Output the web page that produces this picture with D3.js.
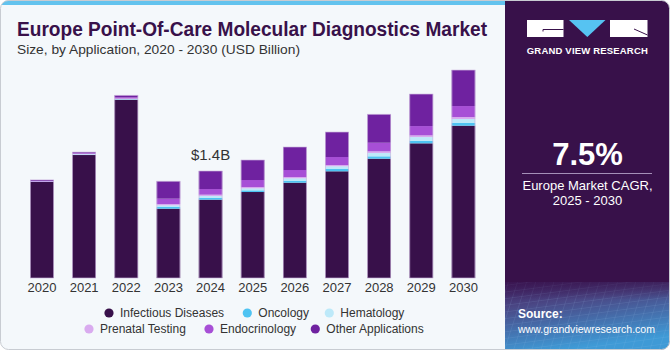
<!DOCTYPE html>
<html>
<head>
<meta charset="utf-8">
<script src="https://cdn.jsdelivr.net/npm/d3@7"></script>
<style>
html,body{margin:0;padding:0;background:#fff;}
svg{display:block;font-family:"Liberation Sans",Arial,sans-serif;}
</style>
</head>
<body>
<svg id="chart" width="670" height="350"></svg>
<script>
const years = ["2020","2021","2022","2023","2024","2025","2026","2027","2028","2029","2030"];
const seriesNames = ["Infectious Diseases","Oncology","Hematology","Prenatal Testing","Endocrinology","Other Applications"];
const infectious = [1.256,1.609,2.333,0.907,1.025,1.125,1.247,1.396,1.561,1.762,1.993];
const oncology   = [0.002,0.004,0.004,0.022,0.022,0.022,0.026,0.030,0.031,0.034,0.035];
const hematology = [0.003,0.006,0.005,0.022,0.026,0.026,0.031,0.035,0.043,0.048,0.052];
const prenatal   = [0.003,0.006,0.007,0.017,0.017,0.017,0.017,0.017,0.022,0.022,0.026];
const endocrin   = [0.006,0.008,0.015,0.070,0.074,0.092,0.092,0.105,0.113,0.122,0.144];
const otherApps  = [0.013,0.014,0.026,0.228,0.236,0.262,0.301,0.327,0.372,0.419,0.471];
const colors = ["#38104a","#4ec3f2","#bde9f9","#d9abef","#a74fd6","#6f22a0"];
const annotationYear = "2024";
const annotationText = "$1.4B";

const svg = d3.select("#chart");
const W = 670, H = 350;

// defs
const defs = svg.append("defs");
const clip = defs.append("clipPath").attr("id","outer");
clip.append("rect").attr("x",0.5).attr("y",0.5).attr("width",W-1).attr("height",H-1).attr("rx",8);
const grad = defs.append("linearGradient").attr("id","srcGrad").attr("x1",0).attr("y1",0).attr("x2",0.3).attr("y2",1);
grad.append("stop").attr("offset","0%").attr("stop-color","#3d1a5a");
grad.append("stop").attr("offset","35%").attr("stop-color","#4a4785");
grad.append("stop").attr("offset","100%").attr("stop-color","#3f9ad6");
const pat = defs.append("pattern").attr("id","gridPat").attr("width",9).attr("height",7)
  .attr("patternUnits","userSpaceOnUse").attr("patternTransform","skewX(-25) rotate(-8)");
pat.append("path").attr("d","M0 0 L9 0 M0 0 L0 7").attr("stroke","#9fc8ee").attr("stroke-width",0.6).attr("fill","none").attr("opacity",0.55);

const g = svg.append("g").attr("clip-path","url(#outer)");

// backgrounds
g.append("rect").attr("x",0).attr("y",0).attr("width",W).attr("height",H).attr("fill","#f4f8fb");
g.append("rect").attr("x",0).attr("y",0).attr("width",506).attr("height",5).attr("fill","#63c3ee");
g.append("rect").attr("x",505).attr("y",0).attr("width",165).attr("height",H).attr("fill","#38114a");
g.append("rect").attr("x",505).attr("y",282).attr("width",165).attr("height",68).attr("fill","url(#srcGrad)");
g.append("rect").attr("x",505).attr("y",282).attr("width",165).attr("height",68).attr("fill","url(#gridPat)").attr("opacity",0.6);
const fadeGrad = defs.append("linearGradient").attr("id","fadeGrad").attr("x1",0).attr("y1",0).attr("x2",0).attr("y2",1);
fadeGrad.append("stop").attr("offset","0%").attr("stop-color","#38114a").attr("stop-opacity",1);
fadeGrad.append("stop").attr("offset","100%").attr("stop-color","#38114a").attr("stop-opacity",0);
g.append("rect").attr("x",505).attr("y",270).attr("width",165).attr("height",30).attr("fill","url(#fadeGrad)");

// outer border
svg.append("rect").attr("x",0.5).attr("y",0.5).attr("width",W-1).attr("height",H-1).attr("rx",8)
  .attr("fill","none").attr("stroke","#c8ccd2").attr("stroke-width",1);

// title
svg.append("text").attr("x",17).attr("y",36).attr("fill","#38114a")
  .attr("font-size",19.5).attr("font-weight",900)
  .attr("textLength",470).attr("lengthAdjust","spacingAndGlyphs")
  .text("Europe Point-Of-Care Molecular Diagnostics Market");
svg.append("text").attr("x",17).attr("y",53.5).attr("fill","#333")
  .attr("font-size",13.5).attr("textLength",283).attr("lengthAdjust","spacingAndGlyphs")
  .text("Size, by Application, 2020 - 2030 (USD Billion)");

// scales
const x = d3.scaleBand().domain(years).range([20.9,484.5]).paddingInner(0.44).paddingOuter(0.22);
const y = d3.scaleLinear().domain([0,2.8]).range([278,64]);

const seriesArrays = [infectious,oncology,hematology,prenatal,endocrin,otherApps];
const table = years.map((yr,i)=>{
  const o = {year:yr};
  seriesNames.forEach((s,j)=>o[s]=seriesArrays[j][i]);
  return o;
});
const stack = d3.stack().keys(seriesNames)(table);

const barsG = svg.append("g");
stack.forEach((layer,j)=>{
  barsG.selectAll(null).data(layer).enter().append("rect")
    .attr("x",d=>x(d.data.year))
    .attr("width",x.bandwidth())
    .attr("y",d=>y(d[1]))
    .attr("height",d=>Math.max(0,y(d[0])-y(d[1])))
    .attr("fill",colors[j]);
});
// light outline around each bar
barsG.selectAll(null).data(table).enter().append("rect")
  .attr("x",d=>x(d.year)+0.3)
  .attr("width",x.bandwidth()-0.6)
  .attr("y",d=>y(d3.sum(seriesNames,s=>d[s])))
  .attr("height",d=>278-y(d3.sum(seriesNames,s=>d[s])))
  .attr("fill","none").attr("stroke","#cdb6de").attr("stroke-width",0.8).attr("opacity",0.8);

// x axis
const xAxis = svg.append("g").attr("transform","translate(0,278)")
  .call(d3.axisBottom(x).tickSize(0).tickPadding(5));
xAxis.select(".domain").remove();
xAxis.selectAll("text").attr("font-size",13).attr("fill","#333")
  .attr("font-family","'Liberation Sans',Arial,sans-serif").attr("dy","0.71em");

// annotation
const annTotal = d3.sum(seriesArrays, a=>a[years.indexOf(annotationYear)]);
svg.append("text").attr("x",x(annotationYear)+x.bandwidth()/2).attr("y",y(annTotal)-11)
  .attr("text-anchor","middle").attr("font-size",15).attr("fill","#333").text(annotationText);

// legend
const legendPos = [
  {cx:109,ty:313},{cx:247.3,ty:313},{cx:329.3,ty:313},
  {cx:89,ty:329},{cx:209,ty:329},{cx:315.3,ty:329}
];
const lg = svg.append("g");
seriesNames.forEach((s,j)=>{
  const p = legendPos[j];
  lg.append("circle").attr("cx",p.cx).attr("cy",p.ty).attr("r",4.6).attr("fill",colors[j]);
  lg.append("text").attr("x",p.cx+11).attr("y",p.ty).attr("dy","0.35em")
    .attr("font-size",12).attr("fill","#333").text(s);
});

// logo
const lgo = svg.append("g");
lgo.append("rect").attr("x",527).attr("y",20).attr("width",36.5).attr("height",17).attr("fill","#fff");
lgo.append("path").attr("d","M543 31.5 L543 29.5 L563.5 29.5").attr("stroke","#38114a").attr("stroke-width",1).attr("fill","none");
lgo.append("path").attr("d","M569 20 L605.5 20 L587.3 37 Z").attr("fill","#56c3f2");
lgo.append("rect").attr("x",610).attr("y",20).attr("width",37.5).attr("height",17).attr("fill","#fff");
lgo.append("path").attr("d","M634 29 L647.5 35").attr("stroke","#38114a").attr("stroke-width",1).attr("fill","none");
lgo.append("text").attr("x",587.3).attr("y",54).attr("text-anchor","middle").attr("fill","#fff")
  .attr("font-size",9.5).attr("font-weight","bold").attr("textLength",121).attr("lengthAdjust","spacing")
  .text("GRAND VIEW RESEARCH");

// CAGR
svg.append("text").attr("x",587.5).attr("y",165).attr("text-anchor","middle").attr("fill","#fff")
  .attr("font-size",31).attr("font-weight","bold").text("7.5%");
svg.append("line").attr("x1",522).attr("x2",652).attr("y1",173.5).attr("y2",173.5)
  .attr("stroke","#a590b8").attr("stroke-width",1);
svg.append("text").attr("x",587.5).attr("y",189.5).attr("text-anchor","middle").attr("fill","#fff")
  .attr("font-size",13).text("Europe Market CAGR,");
svg.append("text").attr("x",587.5).attr("y",204.5).attr("text-anchor","middle").attr("fill","#fff")
  .attr("font-size",13).text("2025 - 2030");

// source
svg.append("text").attr("x",518).attr("y",318).attr("fill","#fff").attr("font-size",12).attr("font-weight","bold").text("Source:");
svg.append("text").attr("x",518).attr("y",333).attr("fill","#fff").attr("font-size",11)
  .attr("textLength",137).attr("lengthAdjust","spacingAndGlyphs").text("www.grandviewresearch.com");
</script>
</body>
</html>
